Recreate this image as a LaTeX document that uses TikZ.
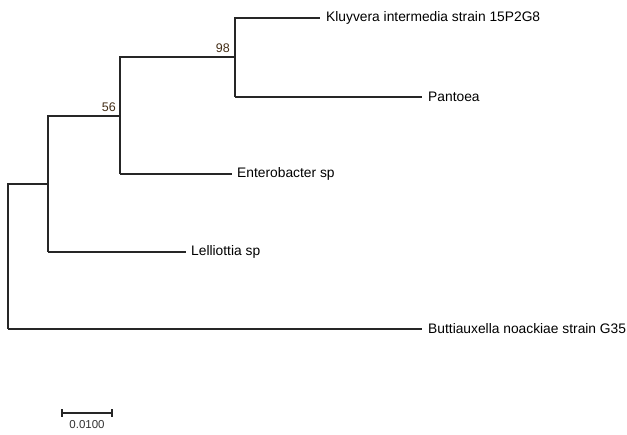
\documentclass[tikz,border=0pt]{standalone}
\usepackage{fontspec}
\setmainfont{Liberation Sans}
\begin{document}
\begin{tikzpicture}[x=1pt,y=-1pt,
  branch/.style={draw=black!85, line width=1.2pt},
  taxon/.style={anchor=west, inner sep=0pt, font=\fontsize{13.8}{16}\selectfont},
  boot/.style={anchor=south east, inner sep=0pt, text=black!65!brown, font=\fontsize{12.5}{14}\selectfont},
  scalelbl/.style={anchor=north, inner sep=0pt, font=\fontsize{11.5}{13}\selectfont, text=black!80}]
\useasboundingbox (0,0) rectangle (627,435);
% internal nodes
\coordinate (root) at (8,184);
\coordinate (n1) at (48,184);
\coordinate (n2) at (120,116);
\coordinate (n3) at (235,57);
% leaf ends
\coordinate (kl) at (320,18);
\coordinate (pa) at (422,97);
\coordinate (en) at (232,174);
\coordinate (le) at (186,252);
\coordinate (bu) at (422,329);
% labels
\node[taxon] (klL) at ([xshift=6pt]kl) {Kluyvera intermedia strain 15P2G8};
\node[taxon] (paL) at ([xshift=6pt]pa) {Pantoea};
\node[taxon] (enL) at ([xshift=5pt]en) {Enterobacter sp};
\node[taxon] (leL) at ([xshift=5pt]le) {Lelliottia sp};
\node[taxon] (buL) at ([xshift=6pt]bu) {Buttiauxella noackiae strain G35};
% tree
\draw[branch] (root |- bu) -- (root |- n1) -- (n1);
\draw[branch] (root |- bu) -- (bu);
\draw[branch] (n1 |- le) -- (n1 |- n2) -- (n2);
\draw[branch] (n1 |- le) -- (le);
\draw[branch] (n2 |- en) -- (n2 |- n3) -- (n3);
\draw[branch] (n2 |- en) -- (en);
\draw[branch] (n3 |- pa) -- (n3 |- kl) -- (kl);
\draw[branch] (n3 |- pa) -- (pa);
% bootstrap values
\node[boot] (b98) at ([xshift=-5pt,yshift=4pt]n3) {98};
\node[boot] (b56) at ([xshift=-4pt,yshift=4pt]n2) {56};
% scale bar
\coordinate (sa) at (62,413);
\coordinate (sb) at (112,413);
\draw[branch] (sa) -- (sb);
\draw[branch] ([yshift=-4pt]sa) -- ([yshift=4pt]sa);
\draw[branch] ([yshift=-4pt]sb) -- ([yshift=4pt]sb);
\node[scalelbl] (sl) at (87,420) {0.0100};
\end{tikzpicture}
\end{document}
